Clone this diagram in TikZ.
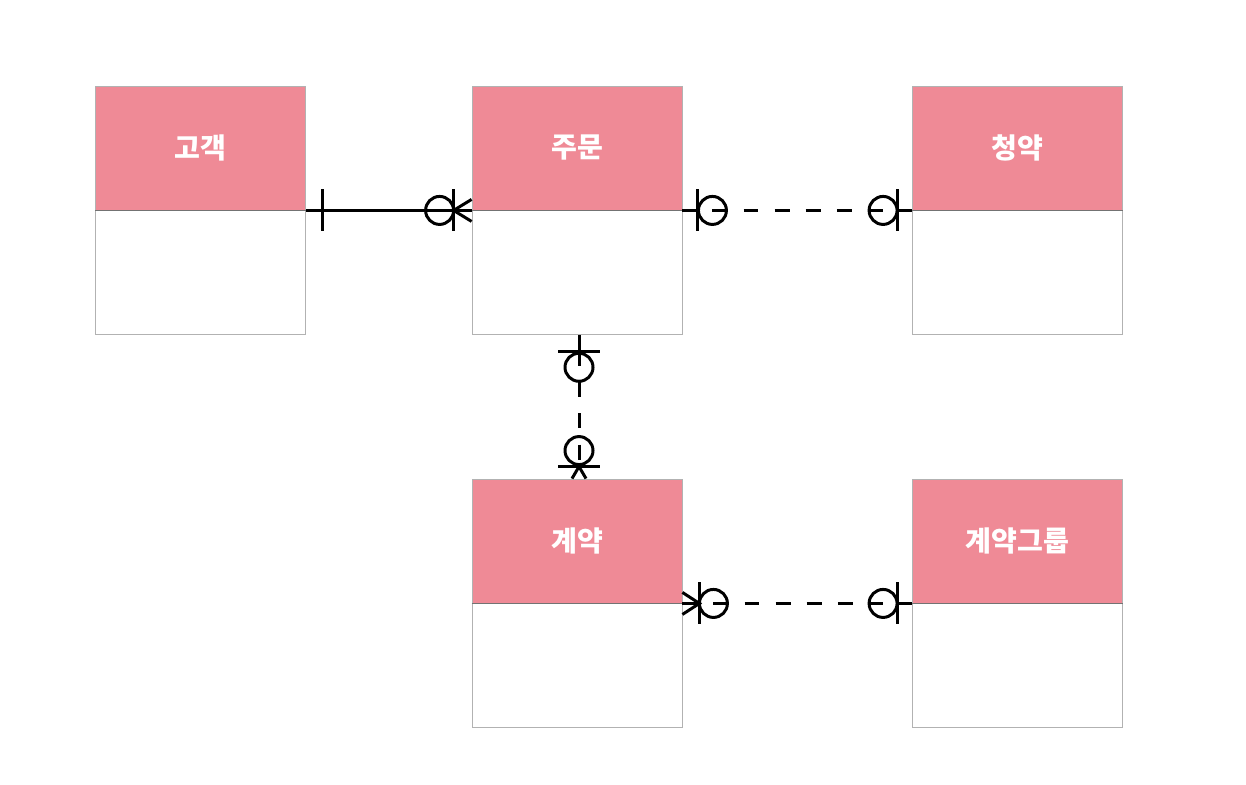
\documentclass[tikz,border=0pt]{standalone}
\usepackage{fontspec}
\newfontfamily\krfont{Noto Sans CJK KR}
\definecolor{hdpink}{RGB}{239,138,150}

\begin{document}
\begin{tikzpicture}[x=0.02cm,y=-0.02cm,
  hd/.style={rectangle,fill=hdpink,draw=black!30,line width=0.5pt,minimum width=4.2cm,minimum height=2.48cm,inner sep=0pt,
    text=white,font=\krfont\bfseries\fontsize{16}{19}\selectfont},
  bd/.style={rectangle,draw=black!30,line width=0.5pt,minimum width=4.2cm,minimum height=2.48cm,inner sep=0pt},
  sep/.style={draw=black!55,line width=0.6pt},
  rel/.style={draw=black,line width=1.7pt},
  opt/.style={rel,dash pattern=on 8.5pt off 9.2pt}]
  \useasboundingbox (0,0) rectangle (1246,784);
  % entities: header + empty body
  \foreach \name/\txt/\xx/\yy in {kg/고객/200.5/148,jm/주문/577/148,cy/청약/1017.5/148,ky/계약/577/541,kgr/계약그룹/1017.5/541}
  {
    \node[hd] (\name-h) at (\xx,\yy) {\txt};
    \node[bd,anchor=north] (\name-b) at (\name-h.south) {};
    \draw[sep] (\name-h.south west) -- (\name-h.south east);
  }
  % 고객 -- 주문 : one to zero-or-many
  \draw[rel] (kg-h.south east) -- (jm-h.south west);
  \draw[rel] (kg-h.south east) ++(17,-21) -- ++(0,42);
  \draw[rel] (jm-h.south west) ++(-18,-21) -- ++(0,42);
  \draw[rel] (jm-h.south west) ++(-32,0) circle[radius=0.28cm];
  \draw[rel] (jm-h.south west) ++(0,-11) -- ++(-18,11) -- ++(18,11);
  % 주문 -- 청약 : zero-or-one both ends
  \path (jm-h.south east) ++(30,0) coordinate (c2a);
  \path (cy-h.south west) ++(-29,0) coordinate (c2b);
  \draw[opt] (c2a) -- (c2b);
  \draw[rel] (jm-h.south east) -- ++(15,0) ++(0,-21) -- ++(0,42);
  \draw[rel] (c2a) circle[radius=0.28cm];
  \draw[rel] (cy-h.south west) -- ++(-15,0) ++(0,-21) -- ++(0,42);
  \draw[rel] (c2b) circle[radius=0.28cm];
  % 주문 -- 계약 : zero-or-one to zero-or-many
  \path (jm-b.south) ++(2,0) coordinate (c3s) ++(0,16) coordinate (c3a);
  \path (ky-h.north) ++(2,0) coordinate (c3e) ++(0,-12) coordinate (c3b);
  \draw[opt] (c3a) -- (c3b);
  \draw[rel] (c3s) -- (c3a) ++(-21,0) -- ++(42,0);
  \draw[rel] (c3a) ++(0,16) circle[radius=0.28cm];
  \draw[rel] (c3b) ++(-21,0) -- ++(42,0);
  \draw[rel] (c3b) ++(0,-16) circle[radius=0.28cm];
  \draw[rel] (c3e) ++(-7,0) -- (c3b) -- ++(7,12);
  % 계약 -- 계약그룹 : zero-or-many to zero-or-one
  \path (ky-h.south east) ++(31,0) coordinate (c4a);
  \path (kgr-h.south west) ++(-29,0) coordinate (c4b);
  \draw[opt] (c4a) -- (c4b);
  \draw[rel] (ky-h.south east) -- ++(17,0) ++(0,-21) -- ++(0,42);
  \draw[rel] (ky-h.south east) ++(0,-11) -- ++(17,11) -- ++(-17,11);
  \draw[rel] (c4a) circle[radius=0.28cm];
  \draw[rel] (kgr-h.south west) -- ++(-15,0) ++(0,-21) -- ++(0,42);
  \draw[rel] (c4b) circle[radius=0.28cm];
\end{tikzpicture}
\end{document}
